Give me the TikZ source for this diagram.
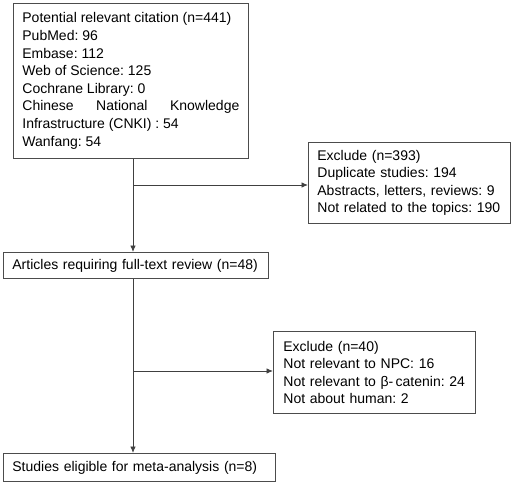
\documentclass[tikz,border=0pt]{standalone}
\usepackage{fontspec}
\setmainfont{Liberation Sans}
\usetikzlibrary{arrows.meta}

\tikzset{
  box/.style={draw=black!70, line width=0.8pt, anchor=north west, inner xsep=9pt, inner ysep=0pt,
    font=\fontsize{14}{17.6}\selectfont\frenchspacing},
  arr/.style={draw=black!75, line width=0.9pt, -{Latex[length=6.5pt,width=5.5pt]}}
}

\begin{document}
\begin{tikzpicture}[x=1pt,y=-1pt]
\useasboundingbox (0,0) rectangle (512,485);
\node[box, text width=217pt, minimum height=155pt, align=justify] (search) at (13,3)
  {Potential relevant citation (n=441)\newline PubMed: 96\newline Embase: 112\newline Web of Science: 125\newline Cochrane Library: 0\newline Chinese National Knowledge\linebreak Infrastructure (CNKI) : 54\newline Wanfang: 54};
\node[box, text width=184pt, minimum height=81pt, align=left] (excl1) at (308,142)
  {Exclude (n=393)\\ Duplicate studies: 194\\ Abstracts, letters, reviews: 9\\ Not related to the topics: 190};
\node[box, text width=247pt, minimum height=26pt, align=left] (review) at (3,252)
  {Articles requiring full-text review (n=48)};
\node[box, inner xsep=10pt, text width=182pt, minimum height=82pt, align=left] (excl2) at (273,331)
  {Exclude (n=40)\\ Not relevant to NPC: 16\\ Not relevant to β-\,catenin: 24\\ Not about human: 2};
\node[box, text width=254pt, minimum height=28pt, align=left] (final) at (3,453)
  {Studies eligible for meta-analysis (n=8)};

% split points
\coordinate (split1) at (133,185);
\coordinate (split2) at (133,371);

\draw[arr] (search.south -| split1) -- (review.north -| split1);
\draw[arr] (split1) -- (split1 -| excl1.west);
\draw[arr] (review.south -| split2) -- (final.north -| split2);
\draw[arr] (split2) -- (split2 -| excl2.west);
\end{tikzpicture}
\end{document}
